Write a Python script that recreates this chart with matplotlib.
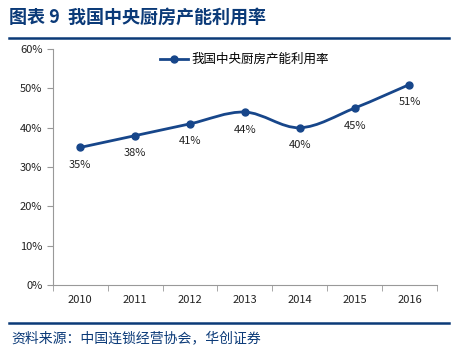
import matplotlib
matplotlib.use("Agg")
import matplotlib.pyplot as plt
from matplotlib.path import Path
import matplotlib.patches as mpatches
from matplotlib.lines import Line2D
import numpy as np

plt.rcParams['font.family'] = ['Noto Sans CJK SC', 'DejaVu Sans']

years = ["2010", "2011", "2012", "2013", "2014", "2015", "2016"]
utilization = [35, 38, 41, 44, 40, 45, 51]
yticks = [0, 10, 20, 30, 40, 50, 60]

BLUE = "#17468A"
NAVY = "#0B3A78"

fig = plt.figure(figsize=(4.56, 3.51), dpi=100)
ax = fig.add_axes([0.116, 0.188, 0.842, 0.672])

x = np.arange(len(years))
y = np.array(utilization, dtype=float)

# smooth curve (Catmull-Rom as cubic Bezier)
verts = [(x[0], y[0])]
codes = [Path.MOVETO]
for i in range(len(x) - 1):
    p0 = (x[max(i - 1, 0)], y[max(i - 1, 0)])
    p1 = (x[i], y[i])
    p2 = (x[i + 1], y[i + 1])
    p3 = (x[min(i + 2, len(x) - 1)], y[min(i + 2, len(x) - 1)])
    c1 = (p1[0] + (p2[0] - p0[0]) / 6, p1[1] + (p2[1] - p0[1]) / 6)
    c2 = (p2[0] - (p3[0] - p1[0]) / 6, p2[1] - (p3[1] - p1[1]) / 6)
    verts += [c1, c2, p2]
    codes += [Path.CURVE4] * 3
ax.add_patch(mpatches.PathPatch(Path(verts, codes), facecolor="none",
                                edgecolor=BLUE, lw=2, zorder=3))
ax.plot(x, y, "o", color=BLUE, ms=5, zorder=4)

for xi, yi in zip(x, utilization):
    ax.annotate(f"{yi}%", (xi, yi), xytext=(0, -9), textcoords="offset points",
                ha="center", va="top", fontsize=8, color="#222222")

ax.set_xlim(-0.5, len(years) - 0.5)
ax.set_ylim(0, 60)
ax.set_yticks(yticks)
ax.set_yticklabels([f"{v}%" for v in yticks])
ax.set_xticks(x)
ax.set_xticklabels(years)
ax.set_xticks(np.arange(-0.5, len(years), 1), minor=True)
ax.tick_params(axis="x", which="major", length=0, pad=7, labelsize=8, colors="#222222")
ax.tick_params(axis="x", which="minor", length=4, color="#999999", direction="out")
ax.tick_params(axis="y", length=4, color="#999999", labelsize=8, colors="#222222")
for s in ["top", "right"]:
    ax.spines[s].set_visible(False)
for s in ["left", "bottom"]:
    ax.spines[s].set_color("#999999")
    ax.spines[s].set_linewidth(0.8)

handle = Line2D([], [], color=BLUE, lw=2, marker="o", ms=5)
ax.legend([handle], ["我国中央厨房产能利用率"], loc="upper center",
          bbox_to_anchor=(0.5, 1.03), frameon=False, fontsize=9,
          handlelength=2.2, handletextpad=0.3)

fig.text(0.02, 0.952, "图表 9  我国中央厨房产能利用率", fontsize=13,
         fontweight="bold", color=NAVY, va="center")
fig.add_artist(Line2D([0.02, 0.985], [0.892, 0.892], color=NAVY, lw=1.8))
fig.add_artist(Line2D([0.02, 0.985], [0.08, 0.08], color=NAVY, lw=1.8))
fig.text(0.025, 0.037, "资料来源：中国连锁经营协会，华创证券", fontsize=10,
         style="italic", color=NAVY, va="center")

fig.savefig("out.png", dpi=100)
